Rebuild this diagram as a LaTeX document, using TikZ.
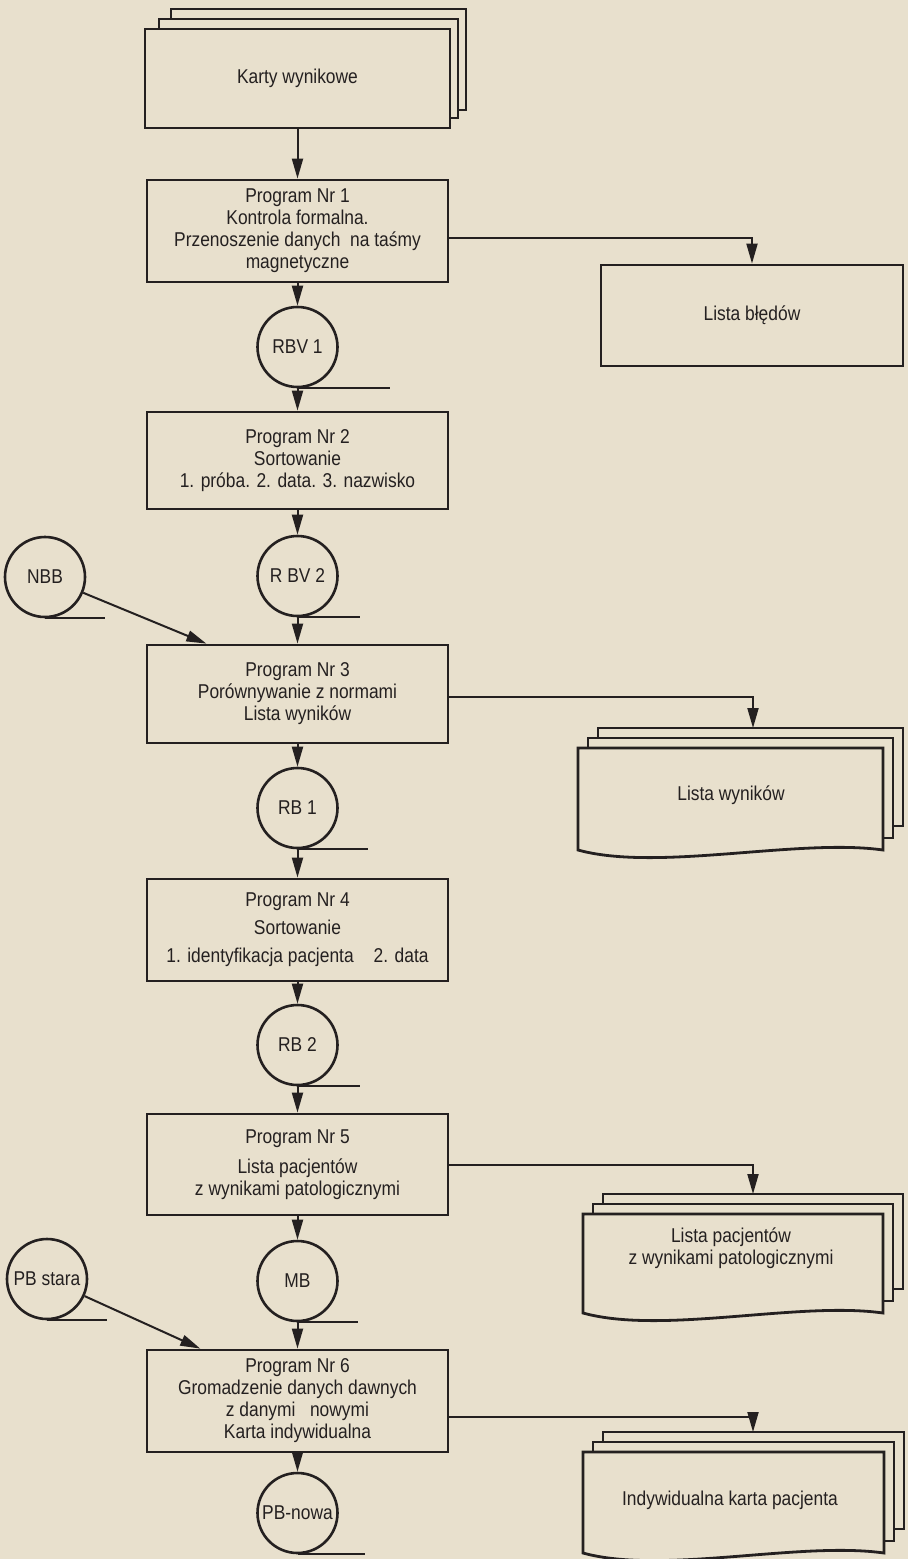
\documentclass[tikz,border=0pt]{standalone}
\usepackage{fontspec}
\setmainfont{Liberation Sans}[FakeStretch=0.87]
\usetikzlibrary{arrows.meta,calc}
\definecolor{paper}{RGB}{232,224,205}
\definecolor{ink}{RGB}{36,32,32}
\tikzset{
 every node/.style={font=\fontsize{10}{11}\selectfont, text=ink},
 box/.style={draw=ink, line width=1.4pt, minimum width=150.5pt, inner sep=0pt, align=center},
 tapec/.style={circle, draw=ink, line width=1.3pt, minimum size=40pt, inner sep=0pt},
 conn/.style={draw=ink, line width=1pt, -{Triangle[length=10pt,width=5.5pt]}},
 uline/.style={draw=ink, line width=1.1pt},
 sheet/.style={draw=ink, line width=1.4pt, line join=miter},
}
\newcommand\mydocs[5]{%
 \draw[sheet] ({#1+20},{#3-10}) -- ({#1+20},{#3-20}) -- ({#2+20},{#3-20}) -- ({#2+20},{#4-24}) -- ({#2+10},{#4-24});
 \draw[sheet] ({#1+10},{#3}) -- ({#1+10},{#3-10}) -- ({#2+10},{#3-10}) -- ({#2+10},{#4-12}) -- ({#2},{#4-12});
 \draw[sheet] (#1,#3) -- (#2,#3) -- (#2,#4) .. controls ({#2-85},{#4-12}) and ({#1+80},{#4+22}) .. (#1,#4) -- cycle;
 \coordinate (#5) at (753,{#3-20});
}
\begin{document}
\begin{tikzpicture}[x=0.5pt,y=-0.5pt]
\fill[paper] (0,0) rectangle (908,1559);
\useasboundingbox (0,0) rectangle (908,1559);

% input cards
\draw[sheet] (171,19) -- (171,9) -- (466,9) -- (466,110) -- (458,110);
\draw[sheet] (159,29) -- (159,19) -- (458,19) -- (458,118) -- (450,118);
\node[box, minimum width=152.5pt, minimum height=49.5pt] (karty) at (297.5,78.5) {Karty wynikowe};

% program boxes
\node[box, minimum height=51pt] (p1) at (297.5,231) {Program Nr 1\\Kontrola formalna.\\Przenoszenie danych\ \ na taśmy\\magnetyczne};
\node[box, minimum height=48.5pt] (p2) at (297.5,460.5) {Program Nr 2\\Sortowanie\\1. próba. 2. data. 3. nazwisko};
\node[box, minimum height=49pt] (p3) at (297.5,694) {Program Nr 3\\Porównywanie z normami\\Lista wyników};
\node[box, minimum height=51pt] (p4) at (297.5,930) {Program Nr 4\\[3pt]Sortowanie\\[3pt]1. identyfikacja pacjenta\quad 2. data};
\node[box, minimum height=50.5pt] (p5) at (297.5,1164.5) {Program Nr 5\\[4pt]Lista pacjentów\\z wynikami patologicznymi};
\node[box, minimum height=51pt] (p6) at (297.5,1401) {Program Nr 6\\Gromadzenie danych dawnych\\z danymi\ \ \ nowymi\\Karta indywidualna};

% error list
\node[box, minimum width=151pt, minimum height=50.5pt] (lb) at (752,315.5) {Lista błędów};

% tapes
\node[tapec] (rbv1) at (297.5,347) {RBV 1};
\node[tapec] (rbv2) at (297.5,576) {R BV 2};
\node[tapec] (rb1) at (297.5,808) {RB 1};
\node[tapec] (rb2) at (297.5,1045) {RB 2};
\node[tapec] (mb) at (297.5,1281) {MB};
\node[tapec] (pbn) at (297.5,1513) {PB-nowa};
\node[tapec] (nbb) at (45,577) {NBB};
\node[tapec] (pbs) at (47,1279) {PB stara};
\draw[uline] (rbv1.south) -- ++(92,0);
\draw[uline] (rbv2.south) -- ++(62,0);
\draw[uline] (rb1.south) -- ++(70,0);
\draw[uline] (rb2.south) -- ++(62,0);
\draw[uline] (mb.south) -- ++(60,0);
\draw[uline] (pbn.south) -- ++(67,0);
\draw[uline] (nbb.south) -- ++(60,0);
\draw[uline] (pbs.south) -- ++(60,0);

% output documents
\mydocs{578}{883}{748}{850}{lwtop}
\node[align=center] (lw) at (731,795) {Lista wyników};
\mydocs{583}{883}{1214}{1313}{lptop}
\node[align=center] (lp) at (731,1248) {Lista pacjentów\\z wynikami patologicznymi};
\mydocs{583}{884}{1452}{1553}{iktop}
\node[align=center] (ik) at (730,1500) {Indywidualna karta pacjenta};

% main flow
\draw[conn] (karty.south) -- (p1.north);
\draw[conn] (p1.south) -- (rbv1.north);
\draw[conn] (rbv1.south) -- (p2.north);
\draw[conn] (p2.south) -- (rbv2.north);
\draw[conn] (rbv2.south) -- (p3.north);
\draw[conn] (p3.south) -- (rb1.north);
\draw[conn] (rb1.south) -- (p4.north);
\draw[conn] (p4.south) -- (rb2.north);
\draw[conn] (rb2.south) -- (p5.north);
\draw[conn] (p5.south) -- (mb.north);
\draw[conn] (mb.south) -- (p6.north);
\draw[conn] (p6.south) -- (pbn.north);

% side inputs
\draw[conn] (nbb) -- ($(p3.north west)!0.2!(p3.north east)$);
\draw[conn] (pbs) -- ($(p6.north west)!0.18!(p6.north east)$);

% outputs to the right
\draw[conn] ([yshift=-3.5pt]p1.east) -| (lb.north);
\draw[conn] ([yshift=-1.5pt]p3.east) -| (lwtop);
\draw[conn] (p5.east) -| (lptop);
\draw[conn] ([yshift=-8pt]p6.east) -| (iktop);
\end{tikzpicture}
\end{document}
